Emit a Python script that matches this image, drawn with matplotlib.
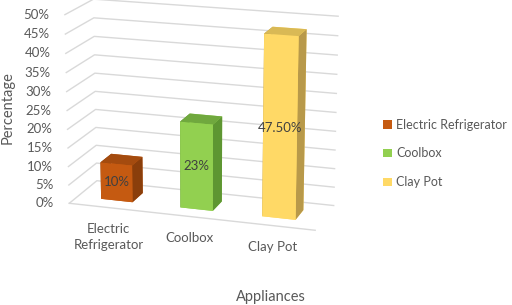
import matplotlib
matplotlib.use("Agg")
import matplotlib.pyplot as plt
from matplotlib.patches import Patch
from mpl_toolkits.mplot3d import proj3d
import numpy as np

categories = ["Electric\nRefrigerator", "Coolbox", "Clay Pot"]
legend_labels = ["Electric Refrigerator", "Coolbox", "Clay Pot"]
values = [0.10, 0.23, 0.475]
value_labels = ["10%", "23%", "47.50%"]
z_ticks = [0, 0.05, 0.10, 0.15, 0.20, 0.25, 0.30, 0.35, 0.40, 0.45, 0.50]
z_ticklabels = ["0%", "5%", "10%", "15%", "20%", "25%", "30%", "35%", "40%", "45%", "50%"]

front_colors = ["#C55A11", "#92D050", "#FFD966"]
side_colors = ["#8A3E0B", "#5E9632", "#B8994A"]
top_colors = ["#A44B0F", "#70A83E", "#D9B955"]

plt.rcParams['font.family'] = ['Lato', 'DejaVu Sans']
text_col = "#595959"
grid_col = "#D9D9D9"

n = len(values)
fig = plt.figure(figsize=(5.12, 3.05), dpi=100)
ax = fig.add_axes([-0.015, 0.121, 0.8, 1.0], projection='3d', proj_type='persp', focal_length=1.0)
ax.view_init(elev=16, azim=-72)
ax.set_box_aspect((3.2, 0.95, 2.44), zoom=1.06)
ax.set_xlim(0, n)
ax.set_ylim(0, 1)
ax.set_zlim(0, 0.5)
ax.set_axis_off()

# walls' gridlines (side wall at x=0, back wall at y=1)
for z in z_ticks:
    ax.plot([0, 0, n], [0, 1, 1], [z, z, z], color=grid_col, lw=1.0, zorder=0)
# floor front edge
ax.plot([0, n], [0, 0], [0, 0], color=grid_col, lw=1.0)

w = 0.4
d = 0.4
xs = np.arange(n) + 0.5 - w / 2
ys = np.full(n, 0.5 - d / 2)
face_cols = []
for i in range(n):
    # order: bottom, top, front(-y), back(+y), left(-x), right(+x)
    face_cols += [front_colors[i], top_colors[i], front_colors[i], front_colors[i], side_colors[i], side_colors[i]]
ax.bar3d(xs, ys, np.zeros(n), w, d, values, color=face_cols, shade=False, zsort='average')

M = ax.get_proj()


def label3d(x, y, z, s, dx=0, dy=0, **kw):
    px, py, _ = proj3d.proj_transform(x, y, z, M)
    return ax.annotate(s, xy=(px, py), xycoords='data', xytext=(dx, dy), textcoords='offset points', **kw)


for i, v in enumerate(values):
    label3d(i + 0.5, ys[i], v / 2, value_labels[i], ha='center', va='center',
            color="#404040", fontsize=9.5, zorder=10)

for z, lab in zip(z_ticks, z_ticklabels):
    label3d(0, 0, z, lab, dx=-11, ha='right', va='center', color=text_col, fontsize=9.5)

for i, c in enumerate(categories):
    label3d(i + 0.5, 0, 0, c, dy=-11, ha='center', va='top', color=text_col, fontsize=9.5,
            linespacing=1.4)

fig.text(0.014, 0.647, "Percentage", rotation=90, ha='center', va='center', color=text_col, fontsize=10.5)
fig.text(0.53, 0.026, "Appliances", ha='center', va='center', color=text_col, fontsize=10.5)

handles = [Patch(facecolor=c, edgecolor='none') for c in front_colors]
fig.legend(handles, legend_labels, loc='center left', bbox_to_anchor=(0.748, 0.497), frameon=False,
           borderpad=0, borderaxespad=0,
           fontsize=9, labelcolor=text_col, handlelength=0.7, handleheight=0.7, handletextpad=0.35,
           labelspacing=1.35)

fig.savefig("out.png", dpi=100)
